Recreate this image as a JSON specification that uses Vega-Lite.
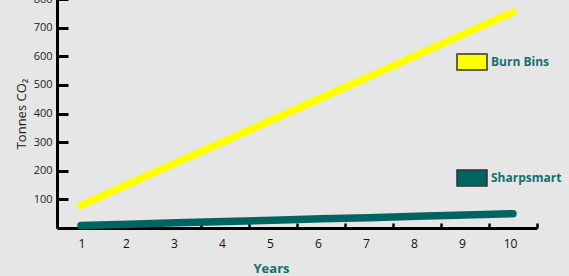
{
  "$schema": "https://vega.github.io/schema/vega-lite/v6.json",
  "width": 480,
  "height": 229,
  "autosize": {"type": "none"},
  "padding": {"left": 57, "top": -1, "right": 32, "bottom": 48},
  "background": "#e6e6e6",
  "config": {
    "view": {"stroke": null},
    "font": "Open Sans",
    "axis": {
      "domainColor": "#000000",
      "domainWidth": 3,
      "tickColor": "#000000",
      "grid": false
    }
  },
  "data": {
    "values": [
      {"year": 1, "tonnes": 79, "series": "Burn Bins"},
      {"year": 2, "tonnes": 154, "series": "Burn Bins"},
      {"year": 3, "tonnes": 229, "series": "Burn Bins"},
      {"year": 4, "tonnes": 304, "series": "Burn Bins"},
      {"year": 5, "tonnes": 379, "series": "Burn Bins"},
      {"year": 6, "tonnes": 454, "series": "Burn Bins"},
      {"year": 7, "tonnes": 529, "series": "Burn Bins"},
      {"year": 8, "tonnes": 604, "series": "Burn Bins"},
      {"year": 9, "tonnes": 679, "series": "Burn Bins"},
      {"year": 10, "tonnes": 754, "series": "Burn Bins"},
      {"year": 1, "tonnes": 9, "series": "Sharpsmart"},
      {"year": 2, "tonnes": 13.5, "series": "Sharpsmart"},
      {"year": 3, "tonnes": 18, "series": "Sharpsmart"},
      {"year": 4, "tonnes": 23, "series": "Sharpsmart"},
      {"year": 5, "tonnes": 27, "series": "Sharpsmart"},
      {"year": 6, "tonnes": 32, "series": "Sharpsmart"},
      {"year": 7, "tonnes": 36, "series": "Sharpsmart"},
      {"year": 8, "tonnes": 41, "series": "Sharpsmart"},
      {"year": 9, "tonnes": 45, "series": "Sharpsmart"},
      {"year": 10, "tonnes": 50, "series": "Sharpsmart"}
    ]
  },
  "encoding": {
    "x": {
      "field": "year",
      "type": "quantitative",
      "scale": {"domain": [0.5, 10.5], "nice": false, "zero": false},
      "axis": {
        "values": [0.5, 1.5, 2.5, 3.5, 4.5, 5.5, 6.5, 7.5, 8.5, 9.5, 10.5],
        "labelExpr": "datum.value < 10 ? format(datum.value + 0.5, 'd') : ''",
        "labelOffset": 21,
        "tickSize": -5,
        "tickWidth": 2.5,
        "labelPadding": 15,
        "labelFontSize": 12,
        "labelColor": "#111111",
        "labelFont": "Open Sans",
        "title": "Years",
        "titleFontSize": 13,
        "titleFontWeight": "bold",
        "titleColor": "#11706e",
        "titleFont": "Open Sans",
        "titleX": 214,
        "titleY": 40,
        "titleBaseline": "middle"
      }
    },
    "y": {
      "field": "tonnes",
      "type": "quantitative",
      "scale": {"domain": [0, 800], "nice": false},
      "axis": {
        "values": [100, 200, 300, 400, 500, 600, 700, 800],
        "tickSize": -11,
        "tickWidth": 3,
        "labelPadding": 16,
        "labelFontSize": 11,
        "labelColor": "#222222",
        "labelFont": "Open Sans",
        "title": "Tonnes CO₂",
        "titleFontSize": 13,
        "titleFontWeight": "normal",
        "titleColor": "#222222",
        "titleFont": "Open Sans",
        "titlePadding": 5
      }
    }
  },
  "layer": [
    {
      "mark": {"type": "point", "filled": true, "opacity": 0, "shape": "square", "strokeWidth": 1.5},
      "encoding": {
        "fill": {
          "field": "series",
          "type": "nominal",
          "scale": {"domain": ["Burn Bins", "Sharpsmart"], "range": ["#ffff00", "#006561"]},
          "legend": {
            "title": null,
            "orient": "none",
            "legendX": 399,
            "legendY": 47,
            "symbolType": "M-1,-0.533H1V0.533H-1Z",
            "symbolSize": 900,
            "symbolStrokeWidth": 1.5,
            "symbolOpacity": 1,
            "rowPadding": 89,
            "labelOffset": 3,
            "labelFontSize": 12,
            "labelFontWeight": "bold",
            "labelColor": "#11706e",
            "labelFont": "Open Sans",
            "encode": {
              "symbols": {
                "update": {
                  "strokeWidth": {"value": 1.5},
                  "opacity": {"value": 1}
                }
              }
            }
          }
        },
        "stroke": {
          "field": "series",
          "type": "nominal",
          "scale": {"domain": ["Burn Bins", "Sharpsmart"], "range": ["#333333", "#333333"]},
          "legend": {
            "title": null,
            "orient": "none",
            "legendX": 399,
            "legendY": 47,
            "symbolType": "M-1,-0.533H1V0.533H-1Z",
            "symbolSize": 900,
            "symbolStrokeWidth": 1.5,
            "symbolOpacity": 1,
            "rowPadding": 89,
            "labelOffset": 3,
            "labelFontSize": 12,
            "labelFontWeight": "bold",
            "labelColor": "#11706e",
            "labelFont": "Open Sans"
          }
        }
      }
    },
    {
      "mark": {"type": "line", "strokeWidth": 7.5, "strokeCap": "round", "clip": false},
      "encoding": {
        "color": {
          "field": "series",
          "type": "nominal",
          "scale": {"domain": ["Burn Bins", "Sharpsmart"], "range": ["#ffff00", "#006561"]},
          "legend": null
        }
      }
    }
  ]
}
